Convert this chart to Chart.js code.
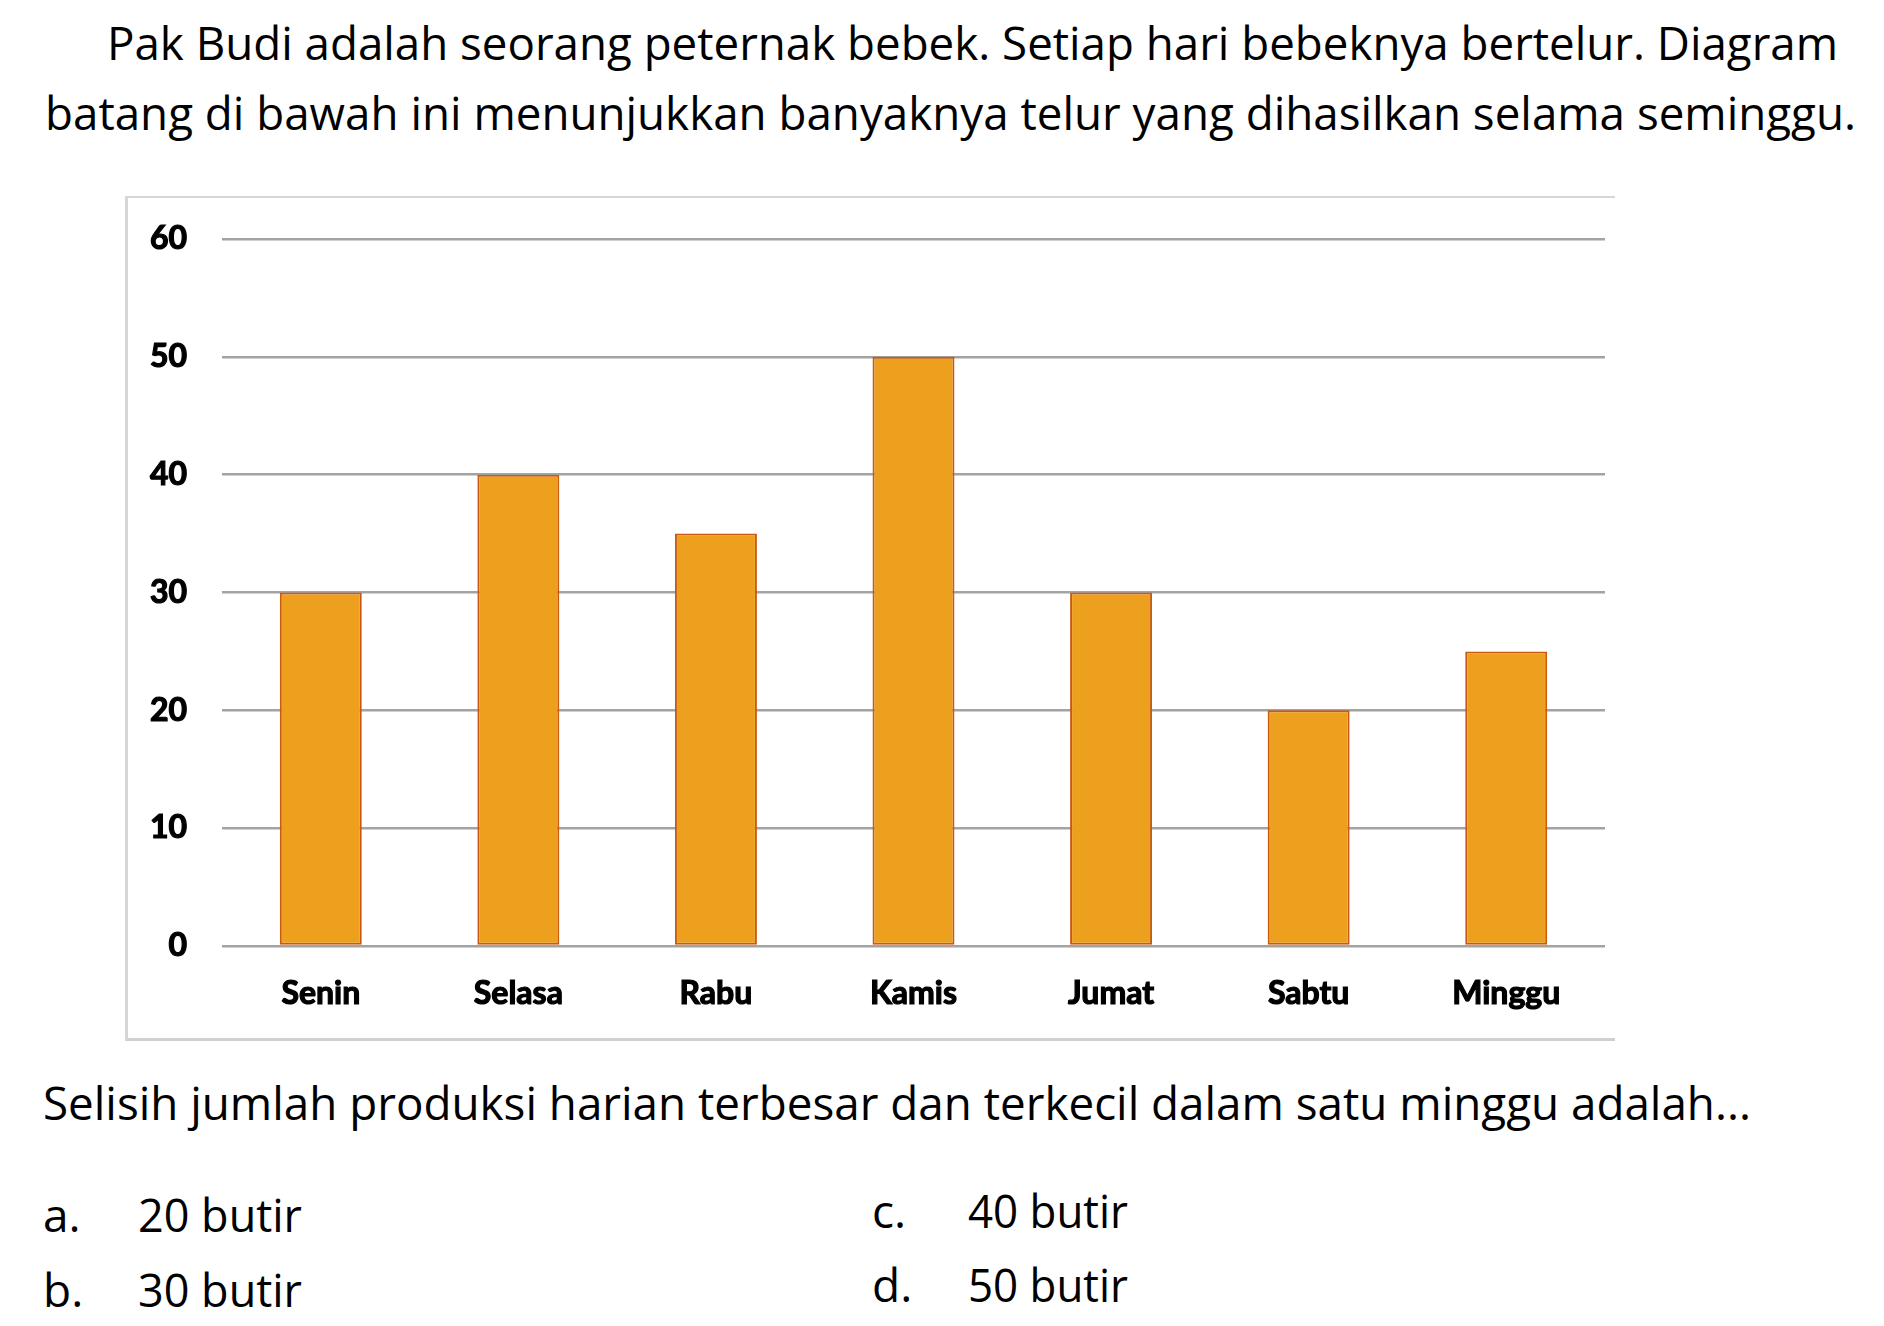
<!DOCTYPE html>
<html>
<head>
<meta charset="utf-8">
<script src="https://cdn.jsdelivr.net/npm/chart.js@4.4.1/dist/chart.umd.min.js"></script>
<style>
  html, body { margin: 0; padding: 0; background: #fff; }
  body { width: 1884px; height: 1326px; position: relative; overflow: hidden; }
  .t { position: absolute; white-space: nowrap; font-family: "Open Sans", sans-serif; color: #000; transform-origin: 0 0; }
  #frame { position: absolute; left: 125px; top: 196px; width: 1487px; height: 840px;
           border-top: 2px solid #d6d6d6; border-left: 3px solid #d6d6d6; border-bottom: 3px solid #d0d0d0; box-sizing: content-box; }
  #wrap { position: absolute; left: 125px; top: 196px; width: 1490px; height: 845px; }
</style>
</head>
<body>
<div id="frame"></div>
<div id="wrap"><canvas id="c" width="1490" height="845"></canvas></div>
<script>
// ---- data ----
const categories = ["Senin", "Selasa", "Rabu", "Kamis", "Jumat", "Sabtu", "Minggu"];
const eggCounts = [30, 40, 35, 50, 30, 20, 25];
const yMin = 0, yMax = 60, yStep = 10;

const titleLines = [
  "Pak Budi adalah seorang peternak bebek. Setiap hari bebeknya bertelur. Diagram",
  "batang di bawah ini menunjukkan banyaknya telur yang dihasilkan selama seminggu."
];
const questionText = "Selisih jumlah produksi harian terbesar dan terkecil dalam satu minggu adalah...";
const optionLetters = ["a.", "b.", "c.", "d."];
const optionTexts = ["20 butir", "30 butir", "40 butir", "50 butir"];

// ---- text placement helper ----
function placeText(text, left, baseline, right, size) {
  const d = document.createElement('div');
  d.className = 't';
  d.style.fontSize = size + 'px';
  d.style.lineHeight = size + 'px';
  d.style.left = left + 'px';
  d.style.top = '0px';
  const s = document.createElement('span');
  s.textContent = text;
  const m = document.createElement('span');
  m.style.display = 'inline-block';
  m.style.width = '0px';
  m.style.height = '0px';
  m.style.verticalAlign = 'baseline';
  d.appendChild(s);
  d.appendChild(m);
  document.body.appendChild(d);
  const base = m.offsetTop;
  d.style.top = (baseline - base) + 'px';
  if (right != null) {
    const w = s.getBoundingClientRect().width;
    d.style.transform = 'scaleX(' + ((right - left) / w) + ')';
  }
  return d;
}

function layoutText() {
  placeText(titleLines[0], 107, 60, 1838, 46);
  placeText(titleLines[1], 45, 130, 1856, 46);
  placeText(questionText, 43, 1120, 1751, 46);
  placeText(optionLetters[0], 43, 1232, null, 46);
  placeText(optionTexts[0], 138, 1232, 302, 46);
  placeText(optionLetters[1], 43, 1307, null, 46);
  placeText(optionTexts[1], 138, 1307, 302, 46);
  placeText(optionLetters[2], 872, 1228, null, 46);
  placeText(optionTexts[2], 968, 1228, 1128, 46);
  placeText(optionLetters[3], 872, 1302, null, 46);
  placeText(optionTexts[3], 968, 1302, 1128, 46);
}

// ---- chart ----
const tickFont = { family: "Lato, 'Liberation Sans', sans-serif", size: 32, weight: 'bold' };
new Chart(document.getElementById('c'), {
  type: 'bar',
  data: {
    labels: categories,
    datasets: [{
      data: eggCounts,
      backgroundColor: '#EDA01E',
      borderColor: '#C95A12',
      borderWidth: 2,
      borderSkipped: false,
      barPercentage: 0.415,
      categoryPercentage: 1.0
    }]
  },
  options: {
    responsive: false,
    animation: false,
    devicePixelRatio: 1,
    layout: { padding: { top: 43, right: 10, left: 0, bottom: 0 } },
    plugins: { legend: { display: false }, tooltip: { enabled: false } },
    scales: {
      x: {
        grid: { display: false, drawTicks: false },
        border: { display: false },
        ticks: { color: '#000', font: tickFont, padding: 28, maxRotation: 0,
                 textStrokeColor: '#000', textStrokeWidth: 1.2 },
        afterFit: (s) => { s.height = 95; }
      },
      y: {
        min: yMin, max: yMax,
        grid: { color: '#a3a3a3', lineWidth: 2.5, drawTicks: false },
        border: { display: false },
        ticks: { stepSize: yStep, color: '#000', font: tickFont, padding: 35,
                 textStrokeColor: '#000', textStrokeWidth: 1.2 },
        afterFit: (s) => { s.width = 97; s.paddingTop = 0; s.paddingBottom = 0; }
      }
    }
  }
});

if (document.fonts && document.fonts.ready) {
  document.fonts.ready.then(layoutText);
} else {
  layoutText();
}
</script>
</body>
</html>
